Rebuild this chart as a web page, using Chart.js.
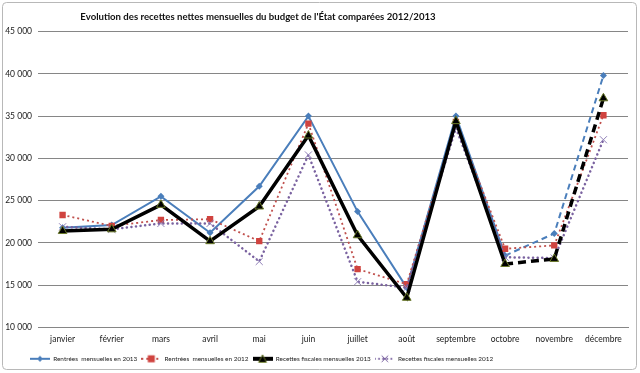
<!DOCTYPE html>
<html>
<head>
<meta charset="utf-8">
<script src="https://cdn.jsdelivr.net/npm/chart.js@4.4.0/dist/chart.umd.min.js"></script>
<style>
  body { margin: 0; background: #fff; }
  #wrap { width: 640px; height: 373px; }
</style>
</head>
<body>
<div id="wrap"><canvas id="recettes-chart" width="640" height="373"></canvas></div>
<script>
// Chart data
const months = ["janvier", "février", "mars", "avril", "mai", "juin", "juillet", "août", "septembre", "octobre", "novembre", "décembre"];
const rentrees2013 = [21800, 22100, 25500, 21200, 26700, 35000, 23700, 14700, 35000, 18500, 21100, 39800];
const rentrees2012 = [23300, 22000, 22700, 22800, 20200, 34100, 16900, 15100, 34300, 19300, 19700, 35100];
const fiscales2013 = [21400, 21600, 24500, 20200, 24300, 32700, 20900, 13500, 34400, 17500, 18100, 37100];
const fiscales2012 = [21900, 21600, 22300, 22300, 17800, 30400, 15400, 14700, 33600, 18300, 18200, 32200];
const yTicks = [10000, 15000, 20000, 25000, 30000, 35000, 40000, 45000];

const FONT = "Lato, 'Liberation Sans', sans-serif";
const BLUE = "#4a7ebb";
const RED = "#c0504d";
const PURPLE = "#7a62a0";

// dashed from octobre onward (estimates)
const dashAfterOct = dash => ({
    borderDash: ctx => ctx.p0DataIndex >= 9 ? dash : undefined
});

// small canvas used as legend sample: line + marker
function legendSample(color, width, dash, cap, drawMarker) {
    let c = document.createElement("canvas");
    c.width = 20;
    c.height = 10;
    let g = c.getContext("2d");
    g.strokeStyle = color;
    g.lineWidth = width;
    g.lineCap = cap || "butt";
    g.setLineDash(dash || []);
    g.beginPath();
    g.moveTo(0, 5);
    g.lineTo(20, 5);
    g.stroke();
    g.setLineDash([]);
    drawMarker(g);
    return c;
}

const samples = [
    legendSample(BLUE, 2, null, null, g => {
        g.fillStyle = BLUE;
        g.beginPath(); g.moveTo(10, 2); g.lineTo(13, 5); g.lineTo(10, 8); g.lineTo(7, 5); g.closePath(); g.fill();
    }),
    legendSample(RED, 2, [2, 3], null, g => {
        g.fillStyle = "#d0433f";
        g.fillRect(6.5, 1.5, 7, 7);
    }),
    legendSample("#000", 4, null, null, g => {
        g.fillStyle = "#000";
        g.strokeStyle = "#6b7a2a";
        g.lineWidth = 1;
        g.beginPath(); g.moveTo(10, 1); g.lineTo(14, 8.5); g.lineTo(6, 8.5); g.closePath(); g.fill(); g.stroke();
    }),
    legendSample(PURPLE, 2, [0.1, 4], "round", g => {
        g.strokeStyle = PURPLE;
        g.lineWidth = 1;
        g.beginPath(); g.moveTo(7, 2); g.lineTo(13, 8); g.moveTo(13, 2); g.lineTo(7, 8); g.stroke();
    })
];

const recettesData = {
    labels: months,
    datasets: [{
        label: "Rentrées  mensuelles en 2013",
        data: rentrees2013,
        borderColor: BLUE,
        backgroundColor: BLUE,
        borderWidth: 2,
        pointStyle: "rectRot",
        pointRadius: 3.5,
        pointBorderWidth: 0,
        segment: dashAfterOct([6, 4]),
        order: 4
    }, {
        label: "Rentrées  mensuelles en 2012",
        data: rentrees2012,
        borderColor: RED,
        backgroundColor: "#d0433f",
        borderWidth: 1.8,
        borderDash: [2, 3],
        pointStyle: "rect",
        pointRadius: 4.5,
        pointBorderWidth: 0,
        order: 3
    }, {
        label: "Recettes fiscales mensuelles 2013",
        data: fiscales2013,
        borderColor: "#000",
        backgroundColor: "#000",
        borderWidth: 3.5,
        pointStyle: "triangle",
        pointRadius: 5,
        pointBorderColor: "#6b7a2a",
        pointBorderWidth: 1,
        segment: dashAfterOct([8, 5]),
        order: 1
    }, {
        label: "Recettes fiscales mensuelles 2012",
        data: fiscales2012,
        borderColor: PURPLE,
        backgroundColor: PURPLE,
        borderWidth: 2.5,
        borderDash: [0.1, 4.5],
        borderCapStyle: "round",
        pointStyle: "crossRot",
        pointRadius: 5,
        pointBorderColor: "#9080b8",
        pointBorderWidth: 1,
        order: 2
    }]
};

// white page, grey rounded frame
const framePlugin = {
    id: "frame",
    beforeDraw(chart) {
        let g = chart.ctx;
        g.save();
        g.fillStyle = "#fff";
        g.fillRect(0, 0, chart.width, chart.height);
        g.strokeStyle = "#b8b8b8";
        g.lineWidth = 1;
        g.beginPath();
        g.roundRect(2.5, 2.5, 634, 367, 4);
        g.stroke();
        g.restore();
    }
};

// title and legend sit left of centre in the original
const shiftBoxes = {
    id: "shiftBoxes",
    afterLayout(chart) {
        chart.legend.left += 26;
        chart.titleBlock.left -= 56;
        chart.titleBlock.right -= 56;
    }
};

const recettesOptions = {
    responsive: false,
    animation: false,
    layout: {
        padding: { left: 0, right: 12, top: 2, bottom: 1 }
    },
    scales: {
        x: {
            offset: true,
            grid: { display: false, drawTicks: false },
            border: { color: "#868686" },
            ticks: {
                color: "#222",
                padding: 7,
                maxRotation: 0,
                autoSkip: false,
                font: { family: FONT, size: 8.5 }
            }
        },
        y: {
            min: 10000,
            max: 45000,
            afterFit(scale) { scale.width = 38; },
            afterBuildTicks(scale) { scale.ticks = yTicks.map(v => ({ value: v })); },
            border: { display: false },
            grid: { color: "#868686", drawTicks: false },
            ticks: {
                color: "#222",
                padding: 6,
                font: { family: FONT, size: 8.5 },
                callback: v => String(v).replace(/\B(?=(\d{3})+(?!\d))/g, " ")
            }
        }
    },
    plugins: {
        title: {
            display: true,
            text: "Evolution des recettes nettes mensuelles du budget de l'État comparées 2012/2013",
            color: "#111",
            font: { family: FONT, size: 9.6, weight: "bold" },
            padding: { top: 9, bottom: 9 }
        },
        legend: {
            position: "bottom",
            align: "start",
            labels: {
                usePointStyle: true,
                pointStyleWidth: 20,
                padding: 4,
                color: "#222",
                font: { family: FONT, size: 6.4 },
                generateLabels(chart) {
                    return chart.data.datasets.map((ds, i) => ({
                        text: ds.label,
                        pointStyle: samples[i],
                        fillStyle: ds.borderColor,
                        strokeStyle: ds.borderColor,
                        lineWidth: 0,
                        hidden: false,
                        datasetIndex: i,
                        fontColor: "#222"
                    }));
                }
            }
        },
        tooltip: { enabled: false }
    }
};

let recettesChart = new Chart(document.getElementById("recettes-chart"), {
    type: "line",
    data: recettesData,
    options: recettesOptions,
    plugins: [framePlugin, shiftBoxes]
});
</script>
</body>
</html>
